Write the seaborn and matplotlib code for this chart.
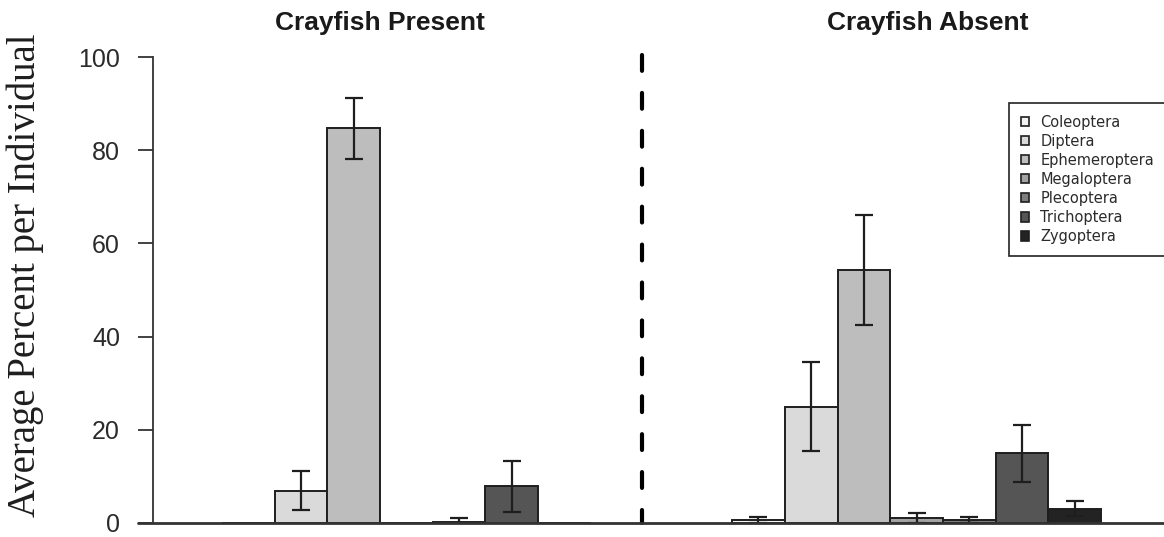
import matplotlib
matplotlib.use("Agg")
import matplotlib.pyplot as plt
import seaborn as sns
import pandas as pd

# Taxa and their fill shades
taxa = ["Coleoptera", "Diptera", "Ephemeroptera", "Megaloptera",
        "Plecoptera", "Trichoptera", "Zygoptera"]
shades = ["#f4f4f4", "#dadada", "#bdbdbd", "#a3a3a3",
          "#7d7d7d", "#555555", "#232323"]

groups = ["Crayfish Present", "Crayfish Absent"]

# Mean percent per individual and standard error, by taxon
present_mean = [0.0, 6.9, 84.7, 0.0, 0.3, 7.9, 0.0]
present_se = [0.0, 4.2, 6.6, 0.0, 0.7, 5.5, 0.0]
absent_mean = [0.6, 25.0, 54.3, 1.0, 0.6, 15.0, 3.1]
absent_se = [0.7, 9.6, 11.9, 1.1, 0.7, 6.1, 1.6]

yticks = [0, 20, 40, 60, 80, 100]

# x offsets of each group's first bar (bars are one unit wide)
group_start = [0.0, 9.68]
divider_x = 7.47

rows = []
for g, start, means, ses in zip(groups, group_start,
                                [present_mean, absent_mean],
                                [present_se, absent_se]):
    for i, (t, m, s) in enumerate(zip(taxa, means, ses)):
        rows.append({"group": g, "taxon": t, "pos": start + i,
                     "mean": m, "se": s})
df = pd.DataFrame(rows)

sns.set_theme(style="white")
plt.rcParams["font.family"] = ["Liberation Sans", "DejaVu Sans"]

W, H = 1164, 537
fig = plt.figure(figsize=(W / 100, H / 100), dpi=100)
ax_left, ax_right, ax_bottom, ax_top = 153, 1164, 523, 57
ax = fig.add_axes([ax_left / W, 1 - ax_bottom / H,
                   (ax_right - ax_left) / W, (ax_bottom - ax_top) / H])

ink = "#1e1e1e"
sns.barplot(data=df, x="pos", y="mean", hue="taxon", hue_order=taxa,
            palette=dict(zip(taxa, shades)), native_scale=True,
            dodge=False, width=1.0, errorbar=None, edgecolor=ink,
            linewidth=1.4, legend=True, ax=ax)

err = df[df["se"] > 0]
ax.errorbar(err["pos"], err["mean"], yerr=err["se"], fmt="none",
            ecolor=ink, elinewidth=1.6, capsize=6.2, capthick=1.6,
            zorder=5)

ax.set_xlim(-1.809, 17.375)
ax.set_ylim(0, 100)
ax.set_yticks(yticks)
ax.set_yticklabels([str(v) for v in yticks])
ax.set_xticks([])
ax.set_xlabel("")
ax.set_ylabel("")
ax.tick_params(axis="y", direction="out", length=10.8, width=1.3,
               color="#333333", labelsize=18, labelcolor="#2b2b2b",
               pad=13, left=True)
for side in ["top", "right", "bottom"]:
    ax.spines[side].set_visible(False)
ax.spines["left"].set_color("#333333")
ax.spines["left"].set_linewidth(1.3)

# baseline running from the zero tick across the plot
ax.plot([-15 / (ax_right - ax_left), 1.0], [0, 0],
        transform=ax.get_yaxis_transform(), color="#333333", lw=2.0,
        clip_on=False, zorder=6)

# dashed divider between the two sites
ax.plot([divider_x, divider_x], [100.4, 0], color="black", lw=3.0,
        linestyle=(0, (3.8, 5.3)), dash_capstyle="round", clip_on=False,
        zorder=4)

# group headings
fig.text(380 / W, 1 - 23 / H, groups[0], ha="center", va="center",
         fontsize=19, fontweight="bold", color="#1a1a1a")
fig.text(928 / W, 1 - 23 / H, groups[1], ha="center", va="center",
         fontsize=19, fontweight="bold", color="#1a1a1a")

fig.text(25 / W, 1 - 275 / H, "Average Percent per Individual",
         rotation=90, ha="center", va="center", fontsize=28,
         family=["Liberation Serif", "DejaVu Serif"], color="#1e1e1e")

handles, labels = ax.get_legend_handles_labels()
for h in handles:
    h.set_edgecolor(ink)
    h.set_linewidth(1.2)
leg = ax.legend(handles, labels, loc="upper left",
                bbox_to_anchor=((1009 - ax_left) / (ax_right - ax_left),
                                (ax_bottom - 103) / (ax_bottom - ax_top)),
                borderaxespad=0, handlelength=0.6, handleheight=0.6,
                handletextpad=0.75, labelspacing=0.28, borderpad=0.8,
                frameon=True, fancybox=False, edgecolor="#222222",
                framealpha=1, prop={"family": "DejaVu Sans", "size": 10.5})
leg.get_frame().set_linewidth(1.2)
for t in leg.get_texts():
    t.set_color("#2b2b2b")

fig.savefig("out.png", dpi=100)
